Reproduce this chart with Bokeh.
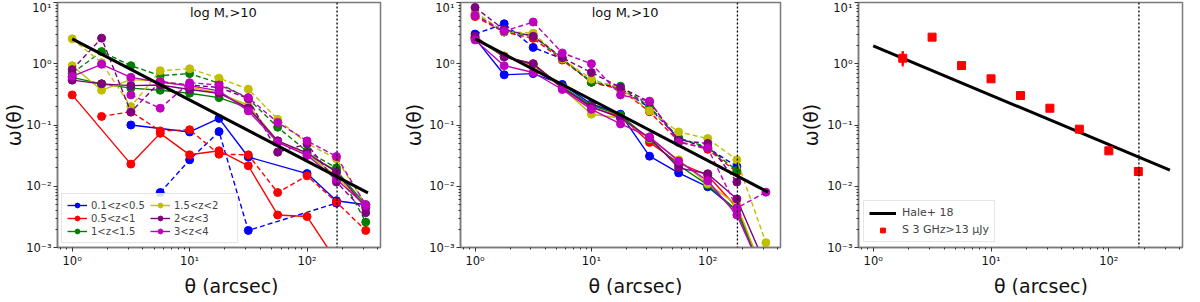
import math
from bokeh.plotting import figure
from bokeh.models import (Range1d, Span, Label, Legend, LegendItem, FixedTicker,
                          ColumnDataSource)
from bokeh.layouts import row, column
from bokeh.core.properties import value
from bokeh.embed import file_html
from bokeh.resources import INLINE

NAN = float("nan")

# ---------------- data ----------------
THETA = [1.0, 1.78, 3.16, 5.62, 10.0, 17.8, 31.6, 56.2, 100.0, 178.0, 316.0]
Z_BINS = ["0.1<z<0.5", "0.5<z<1", "1<z<1.5", "1.5<z<2", "2<z<3", "3<z<4"]
COLORS = ["#0000ff", "#ff0000", "#008000", "#bfbf00", "#800080", "#bf00bf"]

# Panel 1 (solid / dashed samples per redshift bin)
P1_BLUE_SOLID = [NAN, NAN, 0.10, NAN, 0.077, 0.128, 0.030, NAN, 0.0161, 0.0058, 0.0050]
P1_BLUE_DASHED = [NAN, NAN, NAN, 0.0079, 0.027, 0.078, 0.0019, NAN, NAN, 0.0053, NAN]
P1_RED_SOLID = [0.31, NAN, 0.023, 0.073, 0.0326, 0.038, 0.0216, 0.0034, 0.0032, 0.0006, NAN]
P1_RED_DASHED = [NAN, 0.138, 0.165, 0.080, 0.0836, 0.0334, 0.0326, 0.0079, 0.0148, 0.0055, 0.0019]
P1_GREEN_SOLID = [0.60, 0.47, 0.40, 0.37, 0.33, 0.28, 0.19, 0.055, 0.032, 0.018, 0.005]
P1_GREEN_DASHED = [0.70, 1.58, 0.93, 0.64, 0.69, 0.48, 0.27, 0.092, 0.037, 0.020, 0.0026]
P1_YELLOW_SOLID = [0.93, 0.37, 0.55, 0.52, 0.42, 0.33, 0.21, 0.055, 0.033, 0.015, 0.0045]
P1_YELLOW_DASHED = [2.55, 1.04, 0.20, 0.77, 0.83, 0.58, 0.385, 0.124, 0.05, 0.028, 0.005]
P1_PURPLE_SOLID = [0.54, 0.47, 0.44, 0.45, 0.38, 0.33, 0.19, 0.055, 0.035, 0.017, 0.0045]
P1_PURPLE_DASHED = [0.80, 2.62, 0.162, 0.51, 0.45, 0.41, 0.27, 0.036, 0.049, 0.0117, 0.0037]
P1_MAGENTA_SOLID = [0.62, 0.98, 0.60, 0.50, 0.44, 0.36, 0.17, 0.052, 0.032, 0.013, 0.0048]
P1_MAGENTA_DASHED = [NAN, NAN, 0.31, 0.188, 0.49, 0.45, 0.28, 0.11, 0.055, 0.0306, 0.005]

# Panel 2
P2_BLUE_SOLID = [2.6, 0.66, 0.69, 0.46, 0.22, 0.15, 0.031, 0.0165, 0.0098, 0.0040, 0.0003]
P2_BLUE_DASHED = [3.05, 4.5, 1.85, 1.2, 0.50, 0.40, 0.19, 0.060, 0.042, 0.021, NAN]
P2_RED_SOLID = [2.7, 1.30, 1.00, 0.42, 0.19, 0.14, 0.052, 0.024, 0.015, 0.0045, 0.0003]
P2_RED_DASHED = [5.9, 3.3, 2.6, 1.15, 0.50, 0.38, 0.165, 0.054, 0.040, 0.017, NAN]
P2_GREEN_SOLID = [2.6, 1.30, 0.95, 0.42, 0.21, 0.145, 0.058, 0.022, 0.0105, 0.0040, 0.0003]
P2_GREEN_DASHED = [6.4, 3.3, 2.9, 1.2, 0.50, 0.43, 0.20, 0.062, 0.043, 0.018, NAN]
P2_YELLOW_SOLID = [2.6, 1.35, 0.90, 0.40, 0.15, 0.13, 0.060, 0.027, 0.011, 0.0050, 0.0003]
P2_YELLOW_DASHED = [6.95, 3.35, 3.15, 1.2, 0.56, 0.40, 0.17, 0.077, 0.060, 0.027, 0.0012]
P2_PURPLE_SOLID = [2.8, 1.30, 1.00, 0.40, 0.20, 0.13, 0.062, 0.020, 0.016, 0.0062, 0.0005]
P2_PURPLE_DASHED = [8.3, 3.6, 2.8, 1.25, 0.72, 0.41, 0.24, 0.056, 0.050, 0.0117, NAN]
P2_MAGENTA_SOLID = [2.45, 0.93, 0.72, 0.38, 0.18, 0.104, 0.064, 0.0257, 0.0123, 0.0034, 0.0003]
P2_MAGENTA_DASHED = [6.2, 3.4, 4.8, 1.5, 1.0, 0.31, 0.245, 0.052, 0.042, 0.0044, 0.008]

# Power-law fit lines (end points)
FIT_THETA = [1.0, 330.0]
FIT_W_P1 = [2.55, 0.0078]
FIT_W_P2 = [2.55, 0.0080]
HALE_W = [1.96, 0.0183]

# Panel 3: radio sources
P3_THETA = [1.78, 3.16, 5.62, 10.0, 17.8, 31.6, 56.2, 100.0, 178.0, 316.0]
P3_W = [1.23, 2.72, 0.935, 0.567, 0.303, 0.188, 0.0855, 0.0379, 0.0174, 0.0006]
P3_ERR_LO = [0.90, 2.60, 0.90, 0.55, 0.29, 0.18, 0.082, 0.036, 0.0165, 0.0002]
P3_ERR_HI = [1.60, 2.85, 0.97, 0.585, 0.315, 0.196, 0.089, 0.040, 0.0183, 0.00102]

THETA_LIMIT = 180.0
X_TICKS = [1, 10, 100]
X_TICK_LABELS = ["10⁰", "10¹", "10²"]
Y_TICKS = [0.001, 0.01, 0.1, 1, 10]
Y_TICK_LABELS = ["10⁻³", "10⁻²", "10⁻¹", "10⁰", "10¹"]
X_MIN, X_MAX = 0.75, 422.0
Y_MIN, Y_MAX = 1e-3, 10.0

FONT = "DejaVu Sans"
AX_GRAY = "#7a7a7a"
TXT = "#111111"
MAIN_H = 275
STRIP_H = 41
STRIP_OVERLAP = 21
LABEL_BASE = 10


def make_fig(width, left, right, ystand):
    p = figure(width=width, height=MAIN_H, x_axis_type="log", y_axis_type="log",
               x_range=Range1d(X_MIN, X_MAX), y_range=Range1d(Y_MIN, Y_MAX),
               output_backend="svg", toolbar_location=None,
               min_border_left=left, min_border_right=right,
               min_border_top=2, min_border_bottom=28)
    p.xgrid.visible = False
    p.ygrid.visible = False
    p.outline_line_color = AX_GRAY
    p.outline_line_width = 1.5
    xminor = [m * d for d in [0.1, 1, 10, 100] for m in range(2, 10)]
    yminor = [m * d for d in [1e-3, 1e-2, 1e-1, 1] for m in range(2, 10)]
    p.xaxis.ticker = FixedTicker(ticks=X_TICKS, minor_ticks=xminor)
    p.yaxis.ticker = FixedTicker(ticks=Y_TICKS, minor_ticks=yminor)
    p.xaxis.major_label_overrides = dict(zip(X_TICKS, X_TICK_LABELS))
    p.yaxis.major_label_overrides = dict(zip(Y_TICKS, Y_TICK_LABELS))
    for ax in (p.xaxis[0], p.yaxis[0]):
        ax.axis_line_color = AX_GRAY
        ax.axis_line_width = 1.5
        ax.major_tick_line_color = "#333333"
        ax.minor_tick_line_color = "#333333"
        ax.major_tick_out = 4
        ax.major_tick_in = 0
        ax.minor_tick_out = 2
        ax.minor_tick_in = 0
        ax.major_label_text_font = FONT
        ax.major_label_text_font_size = "11.5px"
        ax.major_label_text_color = TXT
        ax.major_label_standoff = 2
        ax.axis_label_text_font = FONT
        ax.axis_label_text_font_size = "19px"
        ax.axis_label_text_font_style = "normal"
        ax.axis_label_text_color = TXT
    p.xaxis.axis_label = None
    p.xaxis.axis_label_standoff = 0
    p.yaxis.axis_label = "ω(θ)"
    p.yaxis.axis_label_standoff = ystand
    return p


def make_strip(width, left, right, text):
    # transparent strip under the panel that carries the x-axis title
    s = figure(width=width, height=STRIP_H, x_range=Range1d(0, width),
               y_range=Range1d(0, STRIP_H), output_backend="svg",
               toolbar_location=None, x_axis_location=None, y_axis_location=None,
               min_border=0, min_border_left=0, min_border_right=0,
               min_border_top=0, min_border_bottom=0,
               margin=(-STRIP_OVERLAP, 0, 0, 0))
    s.xgrid.visible = False
    s.ygrid.visible = False
    s.outline_line_color = None
    s.background_fill_alpha = 0
    s.border_fill_alpha = 0
    xc = left + (width - left - right) / 2.0
    s.text(x=[xc], y=[LABEL_BASE], text=[text], text_align="center",
           text_baseline="alphabetic", text_font=value(FONT),
           text_font_size=value("19px"), text_color=TXT)
    return s


def draw_series(p, ys, color, dash):
    xs = [x for x, y in zip(THETA, ys) if not math.isnan(y)]
    yv = [y for y in ys if not math.isnan(y)]
    src = ColumnDataSource(dict(x=xs, y=yv))
    ln = p.line("x", "y", source=src, line_color=color, line_width=1.4, line_dash=dash)
    sc = p.scatter("x", "y", source=src, size=8, marker="circle",
                   fill_color=color, line_color=color)
    return ln, sc


def add_title(p):
    y0 = 5.1
    x0 = 10.06
    p.add_layout(Label(x=x0, y=y0, text="log M", text_font=FONT,
                       text_font_size="13px", text_color=TXT))
    p.add_layout(Label(x=x0, y=y0, x_offset=35, y_offset=-2, text="*", text_font=FONT,
                       text_font_size="7px", text_color=TXT))
    p.add_layout(Label(x=x0, y=y0, x_offset=39.5, text=">10", text_font=FONT,
                       text_font_size="13px", text_color=TXT))


def limit_line(p):
    p.add_layout(Span(location=THETA_LIMIT, dimension="height", line_color="black",
                      line_dash="2 2", line_width=1.3))


# ---------------- panel 1 ----------------
W1, L1, R1 = 400, 51, 20
p1 = make_fig(W1, L1, R1, -2)
p1_sets = [(P1_BLUE_SOLID, P1_BLUE_DASHED), (P1_RED_SOLID, P1_RED_DASHED),
           (P1_GREEN_SOLID, P1_GREEN_DASHED), (P1_YELLOW_SOLID, P1_YELLOW_DASHED),
           (P1_PURPLE_SOLID, P1_PURPLE_DASHED), (P1_MAGENTA_SOLID, P1_MAGENTA_DASHED)]
items = []
for (sol, das), col, lab in zip(p1_sets, COLORS, Z_BINS):
    ln, sc = draw_series(p1, sol, col, "solid")
    draw_series(p1, das, col, "5 3")
    items.append(LegendItem(label=lab, renderers=[ln, sc]))
p1.line(FIT_THETA, FIT_W_P1, line_color="black", line_width=3)
limit_line(p1)
add_title(p1)
leg = Legend(items=items, location="bottom_left", ncols=2,
             label_text_font=FONT, label_text_font_size="10px",
             glyph_width=20, glyph_height=12, label_height=12, label_width=58,
             label_standoff=4, spacing=1, padding=5, margin=4,
             border_line_color="#cccccc", background_fill_alpha=0.85)
p1.add_layout(leg)
s1 = make_strip(W1, L1, R1, "θ (arcsec)")

# ---------------- panel 2 ----------------
W2, L2, R2 = 397, 54, 17
p2 = make_fig(W2, L2, R2, 1)
p2_sets = [(P2_BLUE_SOLID, P2_BLUE_DASHED), (P2_RED_SOLID, P2_RED_DASHED),
           (P2_GREEN_SOLID, P2_GREEN_DASHED), (P2_YELLOW_SOLID, P2_YELLOW_DASHED),
           (P2_PURPLE_SOLID, P2_PURPLE_DASHED), (P2_MAGENTA_SOLID, P2_MAGENTA_DASHED)]
for (sol, das), col in zip(p2_sets, COLORS):
    draw_series(p2, sol, col, "solid")
    draw_series(p2, das, col, "5 3")
p2.line(FIT_THETA, FIT_W_P2, line_color="black", line_width=3)
limit_line(p2)
add_title(p2)
s2 = make_strip(W2, L2, R2, "θ (arcsec)")

# ---------------- panel 3 ----------------
W3, L3, R3 = 387, 58, 2
p3 = make_fig(W3, L3, R3, 2)
limit_line(p3)
hale = p3.line(FIT_THETA, HALE_W, line_color="black", line_width=3)
p3.segment(x0=P3_THETA, y0=P3_ERR_LO, x1=P3_THETA, y1=P3_ERR_HI,
           line_color="#ff0000", line_width=2)
bar_proxy = p3.scatter(P3_THETA[:1], P3_W[:1], marker="dash", angle=math.pi / 2,
                       size=14, line_color="#ff0000", line_width=2)
pts = p3.scatter(P3_THETA, P3_W, marker="square", size=8,
                 fill_color="#ff0000", line_color="#ff0000")
leg3 = Legend(items=[LegendItem(label="Hale+ 18", renderers=[hale]),
                     LegendItem(label="S 3 GHz>13 μJy", renderers=[bar_proxy, pts])],
              location="bottom_left",
              label_text_font=FONT, label_text_font_size="11px",
              glyph_width=27, glyph_height=12, label_height=12, label_standoff=6,
              spacing=4, padding=5, margin=5,
              border_line_color="#cccccc", background_fill_alpha=0.85)
p3.add_layout(leg3)
s3 = make_strip(W3, L3, R3, "θ  (arcsec)")

layout = row(column(p1, s1), column(p2, s2), column(p3, s3))
open("out.html", "w").write(file_html(layout, INLINE))
